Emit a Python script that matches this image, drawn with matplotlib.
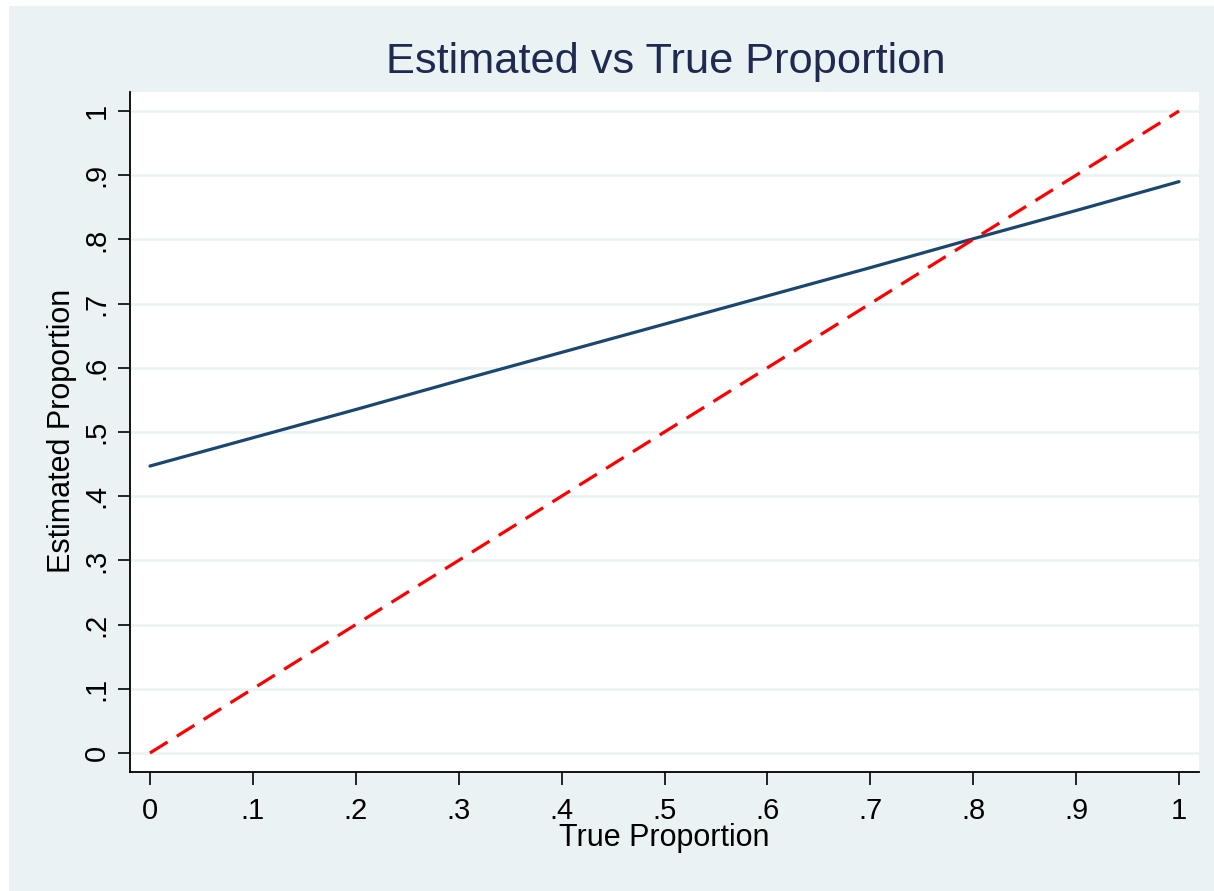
import matplotlib
matplotlib.use("Agg")
import matplotlib.pyplot as plt
from matplotlib.patches import Rectangle

# Values
true_prop = [0.0, 0.1, 0.2, 0.3, 0.4, 0.5, 0.6, 0.7, 0.8, 0.9, 1.0]
estimated_prop = [0.447, 0.491, 0.535, 0.580, 0.624, 0.668, 0.712, 0.756, 0.801, 0.845, 0.890]
reference_line = [0.0, 0.1, 0.2, 0.3, 0.4, 0.5, 0.6, 0.7, 0.8, 0.9, 1.0]
tick_values = [0.0, 0.1, 0.2, 0.3, 0.4, 0.5, 0.6, 0.7, 0.8, 0.9, 1.0]
tick_labels = ["0", ".1", ".2", ".3", ".4", ".5", ".6", ".7", ".8", ".9", "1"]

plt.rcParams["font.family"] = ["Liberation Sans", "DejaVu Sans"]

W, H = 1214, 891
fig = plt.figure(figsize=(W / 100, H / 100), dpi=100, facecolor="white")

bg = "#EAF2F3"
fig.patches.append(Rectangle((9 / W, 0), 1 - 9 / W, 1 - 6 / H, transform=fig.transFigure,
                             facecolor=bg, edgecolor="none", zorder=-10))

ax = fig.add_axes([130 / W, 1 - 772 / H, (1199 - 130) / W, (772 - 92) / H])
ax.set_facecolor("white")

ax.plot(true_prop, estimated_prop, color="#1A476F", lw=2.3, solid_capstyle="round", zorder=3)
ax.plot(true_prop, reference_line, color="#FF0000", lw=2.3, linestyle=(0, (6.5, 3.4)), zorder=4)

ax.set_xlim(-0.0194, 1.0194)
ax.set_ylim(-0.0296, 1.0296)

ax.set_xticks(tick_values)
ax.set_xticklabels(tick_labels)
ax.set_yticks(tick_values)
ax.set_yticklabels(tick_labels, rotation=90, va="center")

for y in tick_values:
    ax.axhline(y, color=bg, lw=1.8, zorder=1)

for side in ["top", "right"]:
    ax.spines[side].set_visible(False)
for side in ["left", "bottom"]:
    ax.spines[side].set_color("black")
    ax.spines[side].set_linewidth(1.3)

ax.tick_params(axis="both", length=9, width=1.2, color="black", labelsize=21, labelcolor="black")
ax.tick_params(axis="x", pad=9)
ax.tick_params(axis="y", pad=5)

ax.set_xlabel("True Proportion", fontsize=22, color="black")
ax.xaxis.label.set_va("center")
ax.xaxis.set_label_coords(0.5, (772 - 838) / 680)
ax.set_ylabel("Estimated Proportion", fontsize=22, color="black")
ax.yaxis.label.set_va("center")
ax.yaxis.set_label_coords((62 - 130) / 1069, (772 - 431) / 680)

fig.text(666 / W, 1 - 62 / H, "Estimated vs True Proportion", fontsize=31.2,
         color="#1E2A4F", ha="center", va="center")

fig.savefig("out.png", dpi=100, facecolor="white")
